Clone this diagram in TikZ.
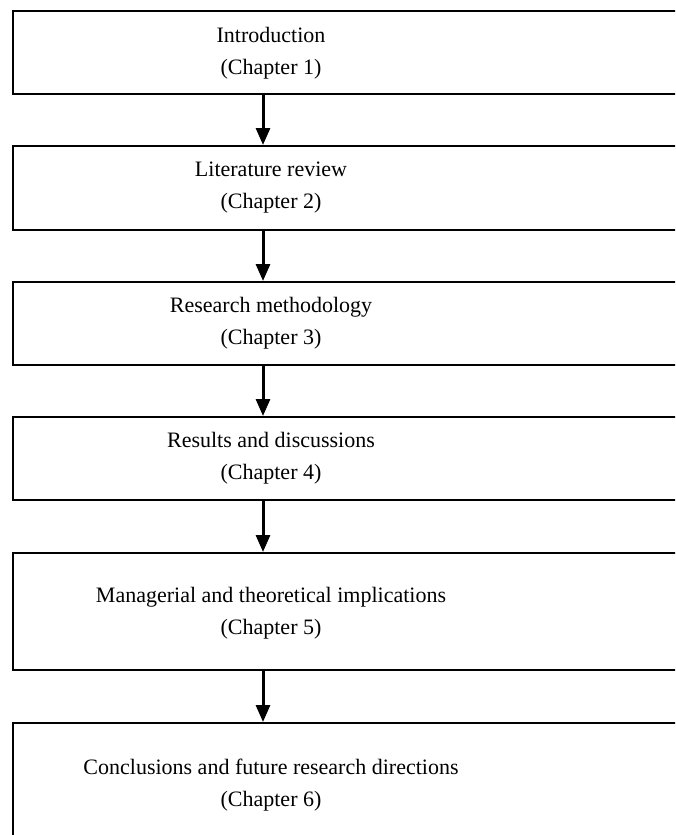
\documentclass[tikz,border=0pt]{standalone}
\usepackage{fontspec}
\setmainfont{Liberation Serif}
\usetikzlibrary{arrows.meta}

\begin{document}
\begin{tikzpicture}[x=1pt,y=-1pt,
        chapbox/.style={draw,line width=1.6pt,anchor=north west,minimum width=680pt,inner sep=0pt},
        chaptext/.style={align=center,font=\fontsize{22}{32}\selectfont,inner sep=0pt},
        flow/.style={line width=3pt,-{Triangle[width=14pt,length=17pt]}}]
        \useasboundingbox (0,0) rectangle (675,835);
        \clip (0,0) rectangle (675,835);
        %boxes
        \node[chapbox,minimum height=83pt] (b1) at (12,10) {};
        \node[chapbox,minimum height=84pt] (b2) at (12,145) {};
        \node[chapbox,minimum height=83pt] (b3) at (12,281) {};
        \node[chapbox,minimum height=83pt] (b4) at (12,416) {};
        \node[chapbox,minimum height=117pt] (b5) at (12,552) {};
        \node[chapbox,minimum height=125pt] (b6) at (12,722) {};
        %texts
        \node[chaptext] (t1) at (271,53) {Introduction\\(Chapter 1)};
        \node[chaptext] (t2) at (271,188) {Literature review\\(Chapter 2)};
        \node[chaptext] (t3) at (271,323) {Research methodology\\(Chapter 3)};
        \node[chaptext] (t4) at (271,458) {Results and discussions\\(Chapter 4)};
        \node[chaptext] (t5) at (271,613) {Managerial and theoretical implications\\(Chapter 5)};
        \node[chaptext] (t6) at (271,785) {Conclusions and future research directions\\(Chapter 6)};
        %arrows
        \coordinate (ax) at (263,0);
        \draw[flow] (b1.south -| ax) -- (b2.north -| ax);
        \draw[flow] (b2.south -| ax) -- (b3.north -| ax);
        \draw[flow] (b3.south -| ax) -- (b4.north -| ax);
        \draw[flow] (b4.south -| ax) -- (b5.north -| ax);
        \draw[flow] (b5.south -| ax) -- (b6.north -| ax);
        \end{tikzpicture}
\end{document}
